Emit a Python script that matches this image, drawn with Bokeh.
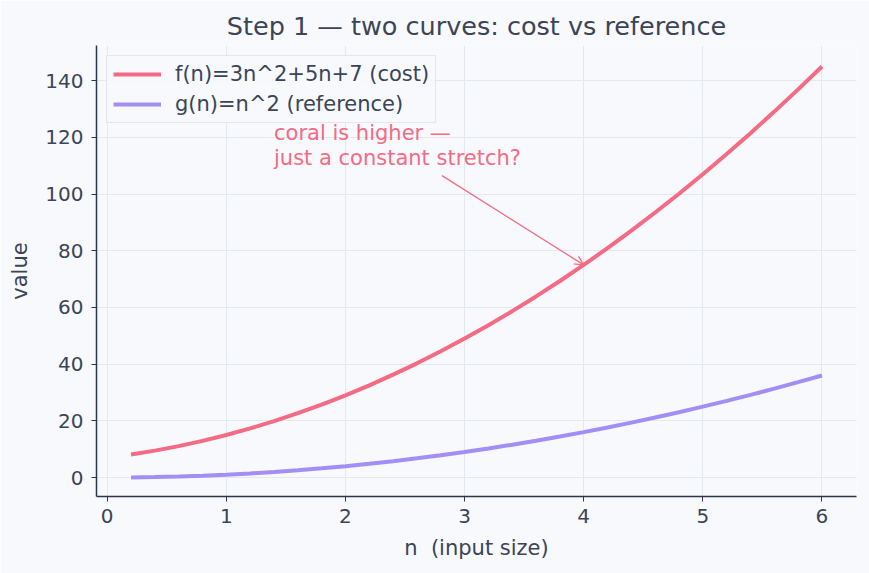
from bokeh.plotting import figure
from bokeh.models import Range1d, Legend, LegendItem, Label, Arrow, OpenHead, FixedTicker
from bokeh.embed import file_html
from bokeh.resources import INLINE

n_vals = [0.2, 0.4, 0.6, 0.8, 1.0, 1.2, 1.4, 1.6, 1.8, 2.0,
          2.2, 2.4, 2.6, 2.8, 3.0, 3.2, 3.4, 3.6, 3.8, 4.0,
          4.2, 4.4, 4.6, 4.8, 5.0, 5.2, 5.4, 5.6, 5.8, 6.0]
cost_vals = [8.12, 9.48, 11.08, 12.92, 15.0, 17.32, 19.88, 22.68, 25.72, 29.0,
             32.52, 36.28, 40.28, 44.52, 49.0, 53.72, 58.68, 63.88, 69.32, 75.0,
             80.92, 87.08, 93.48, 100.12, 107.0, 114.12, 121.48, 129.08, 136.92, 145.0]
ref_vals = [0.04, 0.16, 0.36, 0.64, 1.0, 1.44, 1.96, 2.56, 3.24, 4.0,
            4.84, 5.76, 6.76, 7.84, 9.0, 10.24, 11.56, 12.96, 14.44, 16.0,
            17.64, 19.36, 21.16, 23.04, 25.0, 27.04, 29.16, 31.36, 33.64, 36.0]
x_ticks = [0, 1, 2, 3, 4, 5, 6]
y_ticks = [0, 20, 40, 60, 80, 100, 120, 140]
cost_label = "f(n)=3n^2+5n+7 (cost)"
ref_label = "g(n)=n^2 (reference)"
note_lines = "coral is higher —\njust a constant stretch?"
note_pos = (1.4, 108.5)
arrow_from = (2.81, 106.5)
arrow_to = (4.0, 75.0)

FONT = "DejaVu Sans"
TXT = "#3b4556"
BG = "#f8f9fd"
CORAL = "#f46b83"
VIOLET = "#a38ef5"

p = figure(width=869, height=573, output_backend="svg", toolbar_location=None,
           x_range=Range1d(-0.09, 6.29), y_range=Range1d(-6.7, 152.4),
           min_border_left=96, min_border_right=13, min_border_top=45, min_border_bottom=77,
           background_fill_color=BG, border_fill_color=BG)
p.outline_line_color = None

p.title.text = "Step 1 — two curves: cost vs reference"
p.title.text_font = FONT
p.title.text_font_size = "25.5px"
p.title.text_font_style = "normal"
p.title.text_color = TXT
p.title.align = "center"
p.title.standoff = 10

r1 = p.line(n_vals, cost_vals, line_color=CORAL, line_width=4)
r2 = p.line(n_vals, ref_vals, line_color=VIOLET, line_width=4)

for ax in (p.xaxis[0], p.yaxis[0]):
    ax.axis_line_color = "#2d3748"
    ax.axis_line_width = 1.5
    ax.major_tick_line_color = "#2d3748"
    ax.major_tick_out = 5
    ax.major_tick_in = 0
    ax.minor_tick_line_color = None
    ax.major_label_text_font = FONT
    ax.major_label_text_font_size = "20px"
    ax.major_label_text_color = TXT
    ax.axis_label_text_font = FONT
    ax.axis_label_text_font_size = "21px"
    ax.axis_label_text_font_style = "normal"
    ax.axis_label_text_color = TXT

p.xaxis[0].ticker = FixedTicker(ticks=x_ticks)
p.yaxis[0].ticker = FixedTicker(ticks=y_ticks)
p.xaxis[0].axis_label = "n\u00a0 (input size)"
p.yaxis[0].axis_label = "value"
p.xaxis[0].major_label_standoff = 7
p.yaxis[0].major_label_standoff = 8
p.xaxis[0].axis_label_standoff = 10
p.yaxis[0].axis_label_standoff = 10

p.xgrid.grid_line_color = "#e3e9ee"
p.ygrid.grid_line_color = "#e3e9ee"
p.xgrid.ticker = FixedTicker(ticks=x_ticks)
p.ygrid.ticker = FixedTicker(ticks=y_ticks)

legend = Legend(items=[LegendItem(label=cost_label, renderers=[r1]),
                       LegendItem(label=ref_label, renderers=[r2])],
                location="top_left")
legend.label_text_font = FONT
legend.label_text_font_size = "21px"
legend.label_text_color = TXT
legend.background_fill_color = BG
legend.background_fill_alpha = 0.85
legend.border_line_color = "#cfd4da"
legend.border_line_width = 1
legend.glyph_width = 48
legend.glyph_height = 24
legend.spacing = 6
legend.padding = 6
legend.margin = 10
legend.label_standoff = 14
legend.label_height = 24
p.add_layout(legend)

p.add_layout(Label(x=note_pos[0], y=note_pos[1], text=note_lines,
                   text_font=FONT, text_font_size="21px", text_color=CORAL,
                   text_align="left", text_baseline="bottom", text_line_height=1.05))
p.add_layout(Arrow(x_start=arrow_from[0], y_start=arrow_from[1],
                   x_end=arrow_to[0], y_end=arrow_to[1],
                   line_color=CORAL, line_width=1.3,
                   end=OpenHead(size=9, line_color=CORAL, line_width=1.3)))

open("out.html", "w").write(file_html(p, INLINE))
